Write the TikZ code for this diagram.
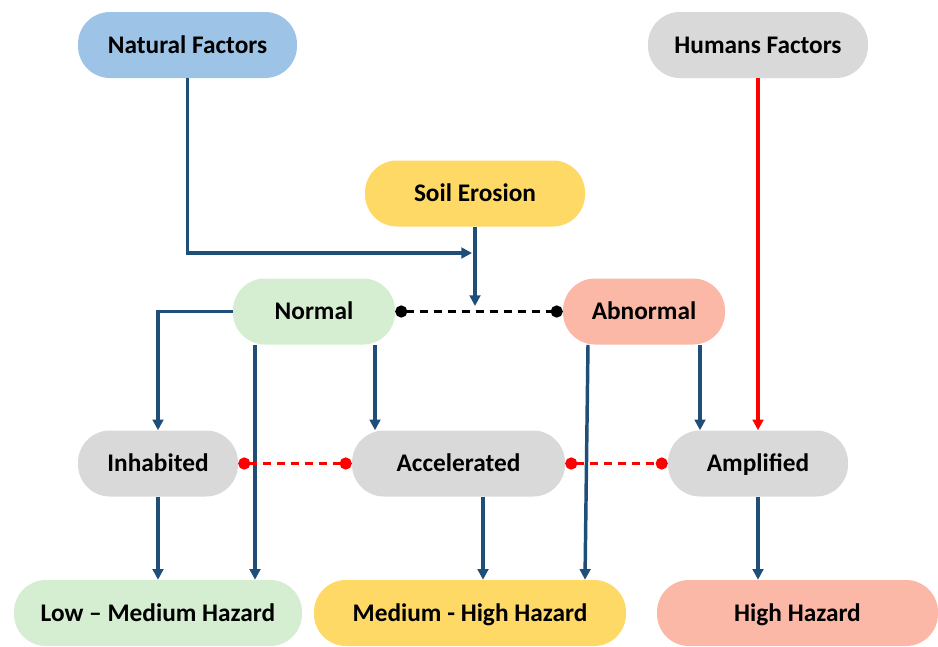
\documentclass[tikz,border=0pt]{standalone}
\usepackage{fontspec}
\setmainfont{Carlito}
\usetikzlibrary{arrows.meta,calc}
\definecolor{flowblue}{HTML}{1F4E79}
\definecolor{natblue}{HTML}{9DC3E6}
\definecolor{boxgrey}{HTML}{D9D9D9}
\definecolor{boxyellow}{HTML}{FFD966}
\definecolor{boxgreen}{HTML}{D5EDD0}
\definecolor{boxsalmon}{HTML}{FBB8A6}
\begin{document}
\begin{tikzpicture}[
				x=0.75pt,y=-0.75pt,
				every node/.style={
						font=\bfseries\fontsize{19}{22}\selectfont,
						text=black,
					},
				pill/.style={rounded corners=24pt, minimum height=49.5pt, inner sep=0pt,
						text height=16pt, text depth=4pt},
				flow/.style={draw=flowblue, line width=2.6pt, -{Triangle[length=8pt,width=8pt]}},
				link/.style={line width=2.6pt, dash pattern=on 6.5pt off 4pt, {Circle[length=9pt]}-{Circle[length=9pt]}},
			]
			\useasboundingbox (0,0) rectangle (938,646);
			% top row
			\node[pill, fill=natblue, minimum width=219*0.75pt] (natural) at (187.5,45) {Natural Factors};
			\node[pill, fill=boxgrey, minimum width=220*0.75pt] (humans) at (758,45) {Humans Factors};
			\node[pill, fill=boxyellow, minimum width=220*0.75pt] (soil) at (475,193.5) {Soil Erosion};
			% erosion types
			\node[pill, fill=boxgreen, minimum width=162*0.75pt] (normal) at (314,311.5) {Normal};
			\node[pill, fill=boxsalmon, minimum width=162*0.75pt] (abnormal) at (644,311.5) {Abnormal};
			% processes
			\node[pill, fill=boxgrey, minimum width=160*0.75pt] (inhabited) at (158,463.5) {Inhabited};
			\node[pill, fill=boxgrey, minimum width=213*0.75pt] (accelerated) at (458.5,463.5) {Accelerated};
			\node[pill, fill=boxgrey, minimum width=180*0.75pt] (amplified) at (758,463.5) {Amplified};
			% hazards
			\node[pill, fill=boxgreen, minimum width=288*0.75pt] (lowmed) at (158,613) {Low -- Medium Hazard};
			\node[pill, fill=boxyellow, minimum width=312*0.75pt] (medhigh) at (470,613) {Medium - High Hazard};
			\node[pill, fill=boxsalmon, minimum width=281*0.75pt] (high) at (797.5,613) {High Hazard};

			\coordinate (natend) at (472,253);
			\coordinate (soilend) at (475,306);
			\draw[flow] (natural.south) |- (natend);
			\draw[flow] (soil.south) -- (soilend);
			\draw[link, black] (normal.east) -- (abnormal.west);
			\draw[flow] (normal.west) -| (inhabited.north);
			\draw[flow] ($(normal.south)+(-59,0)$) coordinate (n1) -- (n1 |- lowmed.north);
			\draw[flow] ($(normal.south)+(61,0)$) coordinate (n2) -- (n2 |- accelerated.north);
			\draw[flow] ($(abnormal.south)+(-56,0)$) -- ($(medhigh.north)+(115,0)$);
			\draw[flow] ($(abnormal.south)+(56,0)$) coordinate (a2) -- (a2 |- amplified.north);
			\draw[red, line width=2.4pt, -{Triangle[length=8pt,width=8pt]}] (humans.south) -- (amplified.north);
			\draw[link, red] (inhabited.east) -- (accelerated.west);
			\draw[link, red] (accelerated.east) -- (amplified.west);
			\draw[flow] (inhabited.south) -- (lowmed.north);
			\draw[flow] ($(accelerated.south)+(24.5,0)$) coordinate (c1) -- (c1 |- medhigh.north);
			\draw[flow] (amplified.south) -- (amplified.south |- high.north);
		\end{tikzpicture}
\end{document}
